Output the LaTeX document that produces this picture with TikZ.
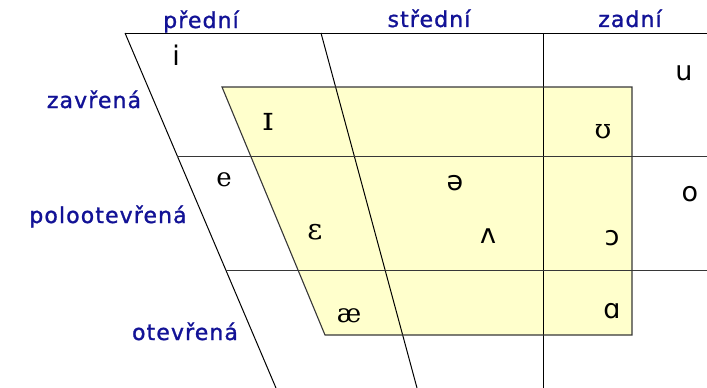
\documentclass[tikz,border=0pt]{standalone}
\usepackage{fontspec}
\setmainfont{DejaVu Sans}
\newfontfamily\lblfont[LetterSpace=5,FakeBold=1.2]{DejaVu Sans}
\newfontfamily\ipasans{DejaVu Sans}
\newfontfamily\ipaserif{DejaVu Serif}
\definecolor{lblblue}{RGB}{18,18,150}
\definecolor{vowelyellow}{RGB}{255,255,204}
\definecolor{bordergrey}{RGB}{55,55,55}
\tikzset{
  gridline/.style={draw=black, line width=1pt},
  axislabel/.style={anchor=base, inner sep=0pt, text=lblblue, font=\lblfont\fontsize{22}{24}\selectfont},
  vsans/.style={anchor=base, inner sep=0pt, font=\ipasans\fontsize{27}{30}\selectfont},
  vserif/.style={anchor=base, inner sep=0pt, font=\ipaserif\fontsize{26}{30}\selectfont},
}
\begin{document}
\begin{tikzpicture}[x=1pt,y=-1pt]
\useasboundingbox (0,0) rectangle (707,388);
% coordinates
\coordinate (tl) at (125,33);
\coordinate (tr) at (707,33);
\coordinate (bl) at (276,388);
\coordinate (mt) at (321,33);
\coordinate (mb) at (417,388);
\coordinate (vt) at (543,33);
\coordinate (vb) at (543,388);
\coordinate (h1l) at (177,156);
\coordinate (h1r) at (707,156);
\coordinate (h2l) at (226,270);
\coordinate (h2r) at (707,270);
\coordinate (y1) at (222,87);
\coordinate (y2) at (632,87);
\coordinate (y3) at (632,335);
\coordinate (y4) at (325,335);
% yellow area
\fill[vowelyellow] (y1) -- (y2) -- (y3) -- (y4) -- cycle;
% grid
\draw[gridline] (tl) -- (tr);
\draw[gridline] (tl) -- (bl);
\draw[gridline] (mt) -- (mb);
\draw[gridline] (vt) -- (vb);
\draw[gridline, draw=bordergrey] (h1l) -- (h1r);
\draw[gridline, draw=bordergrey] (h2l) -- (h2r);
\draw[draw=bordergrey, line width=1.1pt] (y1) -- (y2) -- (y3) -- (y4) -- cycle;
% axis labels
\node[axislabel] (lpredni) at (201,28) {přední};
\node[axislabel] (lstredni) at (429,27) {střední};
\node[axislabel] (lzadni) at (630,27) {zadní};
\node[axislabel] (lzavrena) at (94,108) {zavřená};
\node[axislabel] (lpoloot) at (108,223) {polootevřená};
\node[axislabel] (lotevrena) at (185,340) {otevřená};
% vowels
\node[vsans] (vi) at (176,65) {i};
\node[vsans] (vu) at (684,80) {u};
\node[vserif, font=\ipaserif\fontsize{33}{36}\selectfont] (vI) at (268,130) {ɪ};
\node[vserif, font=\ipaserif\fontsize{27}{30}\selectfont] (vU) at (603,138) {ʊ};
\node[vserif] (ve) at (224,186) {e};
\node[vsans] (vschwa) at (455,190) {ə};
\node[vsans] (vo) at (690,201) {o};
\node[vserif, font=\ipaserif\fontsize{29}{32}\selectfont] (veps) at (315,239) {ɛ};
\node[vsans] (vturnv) at (488,243) {ʌ};
\node[vsans] (vopeno) at (612,245) {ɔ};
\node[vserif] (vae) at (349,322) {æ};
\node[vsans] (valpha) at (612,318) {ɑ};
\end{tikzpicture}
\end{document}
